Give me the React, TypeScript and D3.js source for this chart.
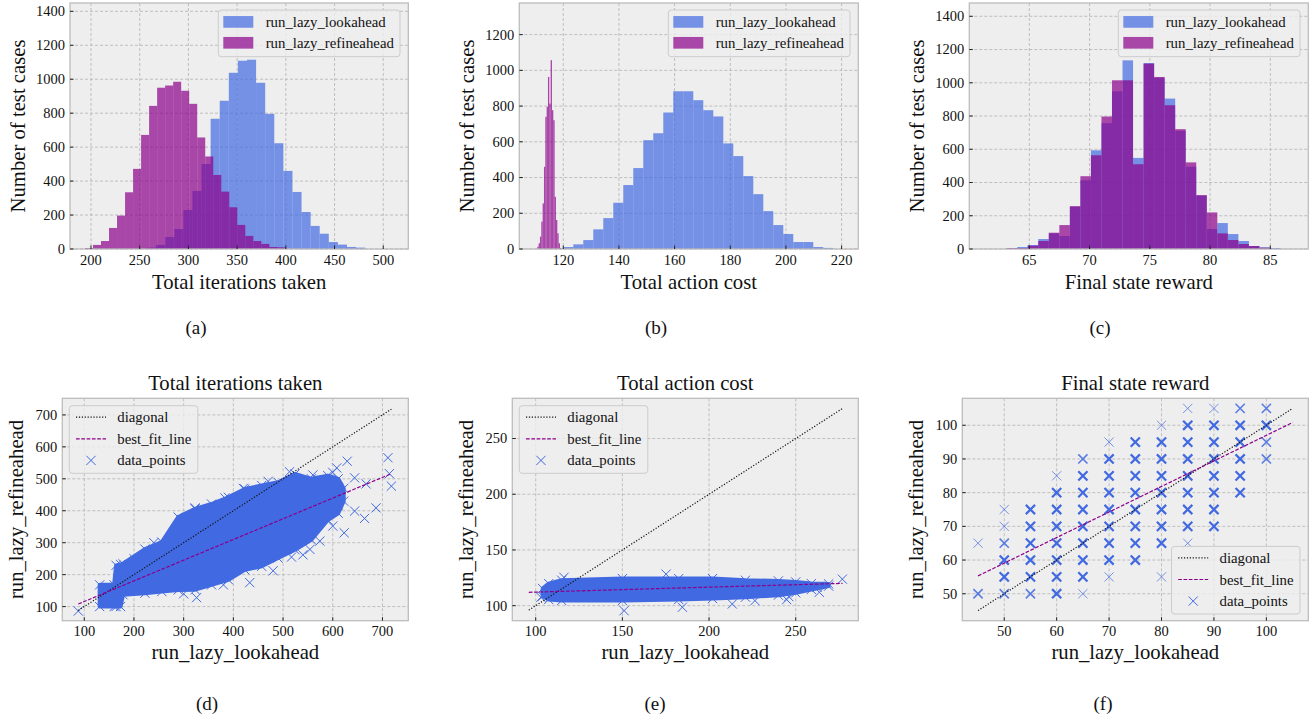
import React from 'react';
import * as d3 from 'd3';

const FONT = 'Liberation Serif';
const BLUE = '#4169e1';
const PURPLE = '#8b008b';
const HIST_NAMES = ['run_lazy_lookahead', 'run_lazy_refineahead'];
const SCATTER_NAMES = ['diagonal', 'best_fit_line', 'data_points'];

// (a) Total iterations taken
const ITER_LOOK_START = 257.5, ITER_LOOK_WIDTH = 9.33;
const iterLookCounts = [8, 24, 71, 118, 230, 342, 501, 767, 873, 1038, 1109, 1115, 979, 796, 623, 460, 336, 218, 136, 90, 41, 26, 12, 8];
const ITER_REF_START = 193.8, ITER_REF_WIDTH = 8.23;
const iterRefCounts = [6, 24, 47, 124, 197, 334, 472, 672, 843, 950, 963, 985, 932, 855, 657, 545, 436, 338, 246, 142, 77, 47, 30, 12, 10];

// (b) Total action cost
const COST_LOOK_START = 120, COST_LOOK_WIDTH = 3.593;
const costLookCounts = [11, 26, 50, 110, 173, 259, 358, 453, 609, 648, 764, 883, 883, 833, 777, 742, 591, 520, 408, 307, 212, 134, 84, 39, 39, 11, 6];
const COST_REF_START = 110.66, COST_REF_WIDTH = 0.48;
const costRefCounts = [13, 32, 69, 153, 255, 460, 740, 796, 963, 814, 1057, 777, 721, 292, 162, 88, 32, 6];

// (c) Final state reward (both runs share the bins)
const REWARD_START = 63.12, REWARD_WIDTH = 0.874;
const rewardLookCounts = [2, 12, 24, 60, 94, 78, 254, 414, 594, 757, 949, 1135, 548, 1119, 1030, 905, 711, 495, 322, 120, 156, 90, 48, 18, 10, 6];
const rewardRefCounts = [6, 6, 20, 48, 98, 144, 258, 438, 564, 797, 1015, 1015, 510, 1115, 1035, 865, 721, 521, 324, 220, 94, 54, 30, 18, 8, 0];

const iterXTicks = [200, 250, 300, 350, 400, 450, 500];
const countTicks14 = [0, 200, 400, 600, 800, 1000, 1200, 1400];
const countTicks12 = [0, 200, 400, 600, 800, 1000, 1200];
const costXTicks = [120, 140, 160, 180, 200, 220];
const rewardXTicks = [65, 70, 75, 80, 85];

// (d) scatter: dense cloud as [x, yLow, yHigh] envelope + stray points
const iterCloud = [
  [131, 100, 168], [160, 100, 168], [164, 100, 229], [173, 100, 232], [178, 137, 234],
  [222, 142, 280], [256, 147, 302], [289, 152, 380], [323, 153, 406], [356, 168, 421],
  [390, 184, 442], [423, 215, 468], [457, 226, 479], [490, 252, 489], [524, 278, 515],
  [557, 309, 500], [590, 371, 510], [611, 392, 500], [622, 430, 470],
];
const iterStray = [
  [88, 86], [629, 555], [608, 534], [711, 566], [714, 516], [718, 477], [687, 409], [664, 376],
  [623, 331], [644, 503], [667, 484], [644, 399], [574, 305], [554, 279], [517, 255], [433, 175],
  [326, 128], [513, 522], [383, 440], [323, 409], [600, 520], [560, 512], [470, 492], [420, 470],
  [240, 300], [200, 250], [300, 140], [380, 168], [480, 212], [540, 262], [600, 352],
];
const iterDiagonal = [[88, 88], [718, 718]];
const iterFit = [[88, 108], [718, 516]];
const iterTicks = [100, 200, 300, 400, 500, 600, 700];

// (e)
const costCloud = [
  [104, 108.5, 115.4], [107.5, 105.5, 119.8], [115, 104.6, 122.8], [150, 104.6, 124.3],
  [182.5, 105.5, 124.3], [202, 106.4, 124.3], [221, 107.6, 122.8], [240, 109.4, 122.2],
  [250, 111.5, 121.3], [259, 114.5, 119.8], [269, 117.5, 119.5],
];
const costStray = [
  [276.9, 123.8], [116.3, 125.4], [175.2, 128.3], [151, 95.5], [184.6, 98.6], [263.6, 112],
  [244.8, 105.4], [213.4, 101.5], [226.5, 104.5], [103, 107.5], [262.3, 116.4], [246, 108.1],
];
const costDiagonal = [[96, 96], [277, 277]];
const costFit = [[96, 112], [277, 120]];
const costTicks = [100, 150, 200, 250];

// (f) discrete points: [x, y, weight] (weight 1 = single, 3 = many overlapping)
const rewardPoints = [
  [45, 65, 1], [45, 50, 2],
  [50, 75, 1], [50, 70, 1], [50, 65, 2], [50, 60, 3], [50, 55, 3], [50, 50, 2],
  [55, 75, 3], [55, 70, 3], [55, 65, 3], [55, 60, 3], [55, 55, 3], [55, 50, 2],
  [60, 85, 1], [60, 80, 3], [60, 75, 3], [60, 70, 3], [60, 65, 3], [60, 60, 3], [60, 55, 3], [60, 50, 3],
  [65, 90, 2], [65, 85, 3], [65, 80, 3], [65, 75, 3], [65, 70, 3], [65, 65, 3], [65, 60, 3], [65, 55, 3], [65, 50, 1],
  [70, 95, 1], [70, 90, 3], [70, 85, 3], [70, 80, 3], [70, 75, 3], [70, 70, 3], [70, 65, 3], [70, 60, 3], [70, 55, 1],
  [75, 95, 3], [75, 90, 3], [75, 85, 3], [75, 80, 3], [75, 75, 3], [75, 70, 3], [75, 65, 3], [75, 60, 3],
  [80, 100, 1], [80, 95, 3], [80, 90, 3], [80, 85, 3], [80, 80, 3], [80, 75, 3], [80, 70, 3], [80, 65, 3], [80, 55, 1],
  [85, 105, 1], [85, 100, 3], [85, 95, 3], [85, 90, 3], [85, 85, 3], [85, 80, 3], [85, 75, 3], [85, 70, 3], [85, 65, 1],
  [90, 105, 1], [90, 100, 3], [90, 95, 3], [90, 90, 3], [90, 85, 3], [90, 80, 3], [90, 75, 3], [90, 70, 3],
  [95, 105, 2], [95, 100, 3], [95, 95, 3], [95, 90, 3], [95, 85, 3], [95, 80, 3],
  [100, 105, 2], [100, 100, 3], [100, 95, 2], [100, 90, 2],
];
const rewardDiagonal = [[45, 45], [105, 105]];
const rewardFit = [[45, 55.3], [105, 100.8]];
const rewardTicks = [50, 60, 70, 80, 90, 100];

type Frame = { left: number; right: number; top: number; bottom: number };

const xMark = (r: number) => `M${-r},${-r}L${r},${r}M${-r},${r}L${r},${-r}`;

// every text gets the serif family directly
function T(props: any) {
  return <text fontFamily={FONT} fill="#111" {...props} />;
}

function Frame({ id, frame, xs, ys, xTicks, yTicks, children }: any) {
  const { left, right, top, bottom } = frame as Frame;
  return (
    <g>
      <defs>
        <clipPath id={id}>
          <rect x={left} y={top} width={right - left} height={bottom - top} />
        </clipPath>
      </defs>
      <rect x={left} y={top} width={right - left} height={bottom - top} fill="#eeeeee" />
      <g stroke="#b2b2b2" strokeWidth={0.8} strokeDasharray="3,2">
        {xTicks.map((t: number) => (
          <line key={'gx' + t} x1={xs(t)} x2={xs(t)} y1={top} y2={bottom} />
        ))}
        {yTicks.map((t: number) => (
          <line key={'gy' + t} x1={left} x2={right} y1={ys(t)} y2={ys(t)} />
        ))}
      </g>
      <g clipPath={`url(#${id})`}>{children}</g>
      <rect x={left} y={top} width={right - left} height={bottom - top} fill="none" stroke="#bcbcbc" strokeWidth={1.3} />
      <g stroke="#222" strokeWidth={1}>
        {xTicks.map((t: number) => (
          <line key={'tx' + t} x1={xs(t)} x2={xs(t)} y1={bottom} y2={bottom - 3.5} />
        ))}
        {yTicks.map((t: number) => (
          <line key={'ty' + t} x1={left} x2={left + 3.5} y1={ys(t)} y2={ys(t)} />
        ))}
      </g>
      {xTicks.map((t: number) => (
        <T key={'lx' + t} x={xs(t)} y={bottom + 15.5} fontSize={14.5} textAnchor="middle">{t}</T>
      ))}
      {yTicks.map((t: number) => (
        <T key={'ly' + t} x={left - 5} y={ys(t)} dy="0.34em" fontSize={14.5} textAnchor="end">{t}</T>
      ))}
    </g>
  );
}

function Bars({ xs, ys, start, width, counts, color }: any) {
  return (
    <g fill={color} fillOpacity={0.7}>
      {counts.map((c: number, i: number) => {
        if (!c) return null;
        const x0 = start + i * width;
        return (
          <rect key={i} x={xs(x0)} width={xs(x0 + width) - xs(x0)} y={ys(c)} height={ys(0) - ys(c)} />
        );
      })}
    </g>
  );
}

function HistPanel({ id, frame, xDomain, yMax, xTicks, yTicks, look, refine, xLabel, label, labelX }: any) {
  const xs = d3.scaleLinear().domain(xDomain).range([frame.left, frame.right]);
  const ys = d3.scaleLinear().domain([0, yMax]).range([frame.bottom, frame.top]);
  const lw = 181.7, lh = 46.7;
  const lx = frame.right - 8.3 - lw, ly = frame.top + 7;
  const cx = (frame.left + frame.right) / 2;
  const cy = (frame.top + frame.bottom) / 2;
  return (
    <g>
      <Frame id={id} frame={frame} xs={xs} ys={ys} xTicks={xTicks} yTicks={yTicks}>
        <Bars xs={xs} ys={ys} {...look} color={BLUE} />
        <Bars xs={xs} ys={ys} {...refine} color={PURPLE} />
      </Frame>
      <rect x={lx} y={ly} width={lw} height={lh} rx={3} fill="#eeeeee" fillOpacity={0.8} stroke="#cccccc" />
      {HIST_NAMES.map((name, i) => {
        const ry = ly + 11.9 + i * 20.9;
        return (
          <g key={name}>
            <rect x={lx + 5} y={ry - 5.85} width={30} height={11.7} fill={i ? PURPLE : BLUE} fillOpacity={0.7} />
            <T x={lx + 47.4} y={ry + 5} fontSize={14.8}>{name}</T>
          </g>
        );
      })}
      <T x={cx} y={frame.bottom + 40} fontSize={20.7} textAnchor="middle">{xLabel}</T>
      <T transform={`translate(${frame.left - 45},${cy}) rotate(-90)`} fontSize={20.7} textAnchor="middle">
        Number of test cases
      </T>
      <T x={labelX} y={334} fontSize={19} textAnchor="middle">{label}</T>
    </g>
  );
}

function ScatterPanel({ id, frame, domain, ticks, cloud, stray, weighted, diagonal, fit, title, legendBottom, label, labelX }: any) {
  const xs = d3.scaleLinear().domain(domain).range([frame.left, frame.right]);
  const ys = d3.scaleLinear().domain(domain).range([frame.bottom, frame.top]);
  const line = d3.line<number[]>().x(d => xs(d[0])).y(d => ys(d[1]));
  const area = d3.area<number[]>().x(d => xs(d[0])).y0(d => ys(d[1])).y1(d => ys(d[2]));
  const lw = 128.5, lh = 67.6;
  const lx = legendBottom ? frame.right - 8.3 - lw : frame.left + 7;
  const ly = legendBottom ? frame.bottom - 6.7 - lh : frame.top + 7.4;
  const cx = (frame.left + frame.right) / 2;
  const cy = (frame.top + frame.bottom) / 2;
  const r = 4.6;
  return (
    <g>
      <Frame id={id} frame={frame} xs={xs} ys={ys} xTicks={ticks} yTicks={ticks}>
        {cloud && (
          <path d={area(cloud) || ''} fill={BLUE} stroke={BLUE} strokeWidth={4} strokeLinejoin="round" />
        )}
        <g fill="none" stroke={BLUE} strokeWidth={1}>
          {cloud && cloud.map((d: number[], i: number) => (
            <g key={'c' + i}>
              <path d={xMark(r)} transform={`translate(${xs(d[0])},${ys(d[1])})`} />
              <path d={xMark(r)} transform={`translate(${xs(d[0])},${ys(d[2])})`} />
            </g>
          ))}
          {stray && stray.map((d: number[], i: number) => (
            <path key={'s' + i} d={xMark(r)} transform={`translate(${xs(d[0])},${ys(d[1])})`} />
          ))}
          {weighted && weighted.map((d: number[], i: number) => (
            <path
              key={'w' + i}
              d={xMark(r)}
              transform={`translate(${xs(d[0])},${ys(d[1])})`}
              strokeWidth={d[2] === 3 ? 2.2 : d[2] === 2 ? 1.6 : 1}
              strokeOpacity={d[2] === 1 ? 0.7 : d[2] === 2 ? 0.85 : 1}
            />
          ))}
        </g>
        <path d={line(diagonal) || ''} fill="none" stroke="#111" strokeWidth={1.2} strokeDasharray="1.2,1.7" />
        <path d={line(fit) || ''} fill="none" stroke={PURPLE} strokeWidth={1.2} strokeDasharray="3.7,1.6" />
      </Frame>
      <rect x={lx} y={ly} width={lw} height={lh} rx={3} fill="#eeeeee" fillOpacity={0.8} stroke="#cccccc" />
      {SCATTER_NAMES.map((name, i) => {
        const ry = ly + 11.5 + i * 21.6;
        return (
          <g key={name}>
            {i === 0 && <line x1={lx + 6.7} x2={lx + 36.7} y1={ry} y2={ry} stroke="#111" strokeWidth={1.2} strokeDasharray="1.2,1.7" />}
            {i === 1 && <line x1={lx + 6.7} x2={lx + 36.7} y1={ry} y2={ry} stroke={PURPLE} strokeWidth={1.2} strokeDasharray="3.7,1.6" />}
            {i === 2 && <path d={xMark(r)} transform={`translate(${lx + 21.7},${ry})`} fill="none" stroke={BLUE} strokeWidth={1} />}
            <T x={lx + 48} y={ry + 5} fontSize={14.8}>{name}</T>
          </g>
        );
      })}
      <T x={cx} y={frame.top - 8} fontSize={20.7} textAnchor="middle">{title}</T>
      <T x={cx} y={frame.bottom + 38.5} fontSize={20.7} textAnchor="middle">run_lazy_lookahead</T>
      <T transform={`translate(${frame.left - 39},${cy}) rotate(-90)`} fontSize={20.7} textAnchor="middle">
        run_lazy_refineahead
      </T>
      <T x={labelX} y={710} fontSize={19} textAnchor="middle">{label}</T>
    </g>
  );
}

export default function App() {
  const hTop = 3, hBottom = 249;
  const sTop = 398.3, sBottom = 620.7;
  return (
    <svg width={1315} height={719} style={{ position: 'absolute', left: 0, top: 0, background: '#fff' }}>
      <HistPanel
        id="ca" frame={{ left: 70, right: 408.3, top: hTop, bottom: hBottom }}
        xDomain={[178.45, 525.7]} yMax={1449} xTicks={iterXTicks} yTicks={countTicks14}
        look={{ start: ITER_LOOK_START, width: ITER_LOOK_WIDTH, counts: iterLookCounts }}
        refine={{ start: ITER_REF_START, width: ITER_REF_WIDTH, counts: iterRefCounts }}
        xLabel="Total iterations taken" label="(a)" labelX={196}
      />
      <HistPanel
        id="cb" frame={{ left: 519.3, right: 858.3, top: hTop, bottom: hBottom }}
        xDomain={[104.2, 226]} yMax={1377} xTicks={costXTicks} yTicks={countTicks12}
        look={{ start: COST_LOOK_START, width: COST_LOOK_WIDTH, counts: costLookCounts }}
        refine={{ start: COST_REF_START, width: COST_REF_WIDTH, counts: costRefCounts }}
        xLabel="Total action cost" label="(b)" labelX={656}
      />
      <HistPanel
        id="cc" frame={{ left: 969.3, right: 1308.3, top: hTop, bottom: hBottom }}
        xDomain={[60.02, 88.15]} yMax={1480} xTicks={rewardXTicks} yTicks={countTicks14}
        look={{ start: REWARD_START, width: REWARD_WIDTH, counts: rewardLookCounts }}
        refine={{ start: REWARD_START, width: REWARD_WIDTH, counts: rewardRefCounts }}
        xLabel="Final state reward" label="(c)" labelX={1100}
      />
      <ScatterPanel
        id="cd" frame={{ left: 62.3, right: 408.3, top: sTop, bottom: sBottom }}
        domain={[55.8, 752]} ticks={iterTicks} cloud={iterCloud} stray={iterStray}
        diagonal={iterDiagonal} fit={iterFit} title="Total iterations taken" label="(d)" labelX={207}
      />
      <ScatterPanel
        id="ce" frame={{ left: 512.3, right: 858.3, top: sTop, bottom: sBottom }}
        domain={[86.5, 286.1]} ticks={costTicks} cloud={costCloud} stray={costStray}
        diagonal={costDiagonal} fit={costFit} title="Total action cost" label="(e)" labelX={655}
      />
      <ScatterPanel
        id="cf" frame={{ left: 962.3, right: 1308.3, top: sTop, bottom: sBottom }}
        domain={[42, 108]} ticks={rewardTicks} weighted={rewardPoints}
        diagonal={rewardDiagonal} fit={rewardFit} title="Final state reward" legendBottom label="(f)" labelX={1103}
      />
    </svg>
  );
}
